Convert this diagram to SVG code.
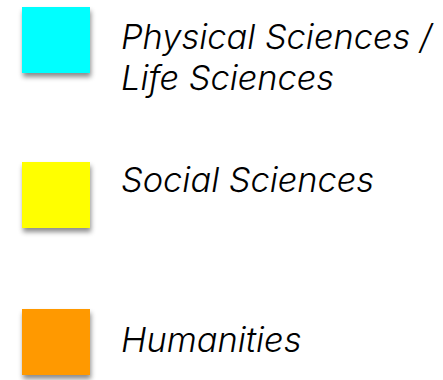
<svg xmlns="http://www.w3.org/2000/svg" width="443" height="380" viewBox="0 0 443 380">
<style>
.lbl{font-family:Inter,"Noto Sans","Liberation Sans",sans-serif;font-style:italic;font-weight:300;font-size:34.4px;fill:#000}
.sw{filter:url(#sh)}
</style>
<defs>
<filter id="sh" x="-30%" y="-30%" width="160%" height="160%">
<feDropShadow dx="1" dy="4" stdDeviation="2.5" flood-color="#000" flood-opacity="0.45"/>
</filter>
</defs>
<rect width="443" height="380" fill="#fff"/>
<g id="physical">
<rect class="sw" x="22" y="7" width="68" height="66" fill="#00ffff"/>
<text class="lbl" x="121" y="49">Physical Sciences /</text>
<text class="lbl" x="121" y="90">Life Sciences</text>
</g>
<g id="social">
<rect class="sw" x="22" y="162" width="68" height="66" fill="#ffff00"/>
<text class="lbl" x="121" y="192">Social Sciences</text>
</g>
<g id="humanities">
<rect class="sw" x="22" y="309" width="68" height="66" fill="#ff9900"/>
<text class="lbl" x="121" y="352">Humanities</text>
</g>
<g id="connectors"/>
</svg>
